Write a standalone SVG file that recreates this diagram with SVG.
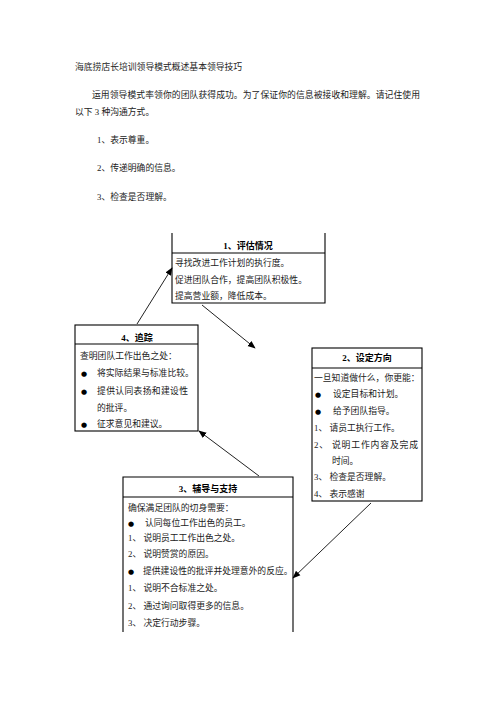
<svg xmlns="http://www.w3.org/2000/svg" width="496" height="702" viewBox="0 0 496 702">
<style>
text{font-family:"Liberation Serif","Noto Sans CJK SC",serif;font-size:8.8px;fill:#222}
.h{font-weight:bold;text-anchor:middle;font-size:9px;fill:#000}
.b{font-family:"DejaVu Sans",sans-serif;font-size:7px;fill:#000}
.box{fill:none;stroke:#000;stroke-width:1.1}
.ln{stroke:#000;stroke-width:1.1}
.c{stroke:#222;stroke-width:1;fill:none;marker-end:url(#ah)}
</style>
<defs>
<marker id="ah" viewBox="0 0 10 10" refX="9" refY="5" markerWidth="8" markerHeight="8" markerUnits="userSpaceOnUse" orient="auto">
<path d="M0,1 L10,5 L0,9 z" fill="#000"/>
</marker>
</defs>
<rect width="496" height="702" fill="#fff"/>
<g id="intro">
<text x="75" y="70">海底捞店长培训领导模式概述基本领导技巧</text>
<text x="92" y="98" textLength="328" lengthAdjust="spacing">运用领导模式率领你的团队获得成功。为了保证你的信息被接收和理解。请记住使用</text>
<text x="75" y="115">以下 3 种沟通方式。</text>
<text x="97" y="143">1、表示尊重。</text>
<text x="97" y="171">2、传递明确的信息。</text>
<text x="97" y="200">3、检查是否理解。</text>
</g>
<g id="node1">
<path class="box" d="M172,233 V303 H325 V233"/>
<line class="ln" x1="172" y1="253" x2="325" y2="253"/>
<text class="h" x="248" y="249">1、评估情况</text>
<text x="175" y="266">寻找改进工作计划的执行度。</text>
<text x="175" y="283">促进团队合作，提高团队积极性。</text>
<text x="175" y="299">提高营业额，降低成本。</text>
</g>
<g id="node4">
<rect class="box" x="75" y="325" width="123" height="106"/>
<line class="ln" x1="75" y1="344" x2="198" y2="344"/>
<text class="h" x="137" y="341">4、追踪</text>
<text x="80" y="359">查明团队工作出色之处：</text>
<text class="b" x="81" y="376">●</text>
<text x="97" y="376">将实际结果与标准比较。</text>
<text class="b" x="81" y="394">●</text>
<text x="97" y="394" textLength="91" lengthAdjust="spacing">提供认同表扬和建设性</text>
<text x="97" y="411">的批评。</text>
<text class="b" x="81" y="427">●</text>
<text x="97" y="427">征求意见和建议。</text>
</g>
<g id="node2">
<rect class="box" x="312" y="348" width="110" height="153"/>
<line class="ln" x1="312" y1="368" x2="422" y2="368"/>
<text class="h" x="367" y="361">2、设定方向</text>
<text x="314" y="381">一旦知道做什么，你更能：</text>
<text class="b" x="315" y="397">●</text>
<text x="333" y="397">设定目标和计划。</text>
<text class="b" x="315" y="414">●</text>
<text x="333" y="414">给予团队指导。</text>
<text x="314" y="431">1、 请员工执行工作。</text>
<text x="314" y="448" textLength="104" lengthAdjust="spacing">2、 说明工作内容及完成</text>
<text x="332" y="464">时间。</text>
<text x="314" y="480">3、 检查是否理解。</text>
<text x="314" y="497">4、 表示感谢</text>
</g>
<g id="node3">
<path class="box" d="M123,632 V477 H293 V632"/>
<line class="ln" x1="123" y1="497" x2="293" y2="497"/>
<text class="h" x="208" y="492">3、辅导与支持</text>
<text x="128" y="511">确保满足团队的切身需要：</text>
<text class="b" x="128" y="526">●</text>
<text x="145" y="526">认同每位工作出色的员工。</text>
<text x="128" y="541">1、 说明员工工作出色之处。</text>
<text x="128" y="557">2、 说明赞赏的原因。</text>
<text class="b" x="128" y="574">●</text>
<text x="143" y="574">提供建设性的批评并处理意外的反应。</text>
<text x="128" y="591">1、 说明不合标准之处。</text>
<text x="128" y="609">2、 通过询问取得更多的信息。</text>
<text x="128" y="626">3、 决定行动步骤。</text>
</g>
<g id="connectors">
<line class="c" x1="137" y1="324" x2="172" y2="268"/>
<line class="c" x1="202" y1="305" x2="255" y2="348"/>
<line class="c" x1="371" y1="503" x2="293" y2="578"/>
<line class="c" x1="259" y1="476" x2="199" y2="431"/>
</g>
</svg>
